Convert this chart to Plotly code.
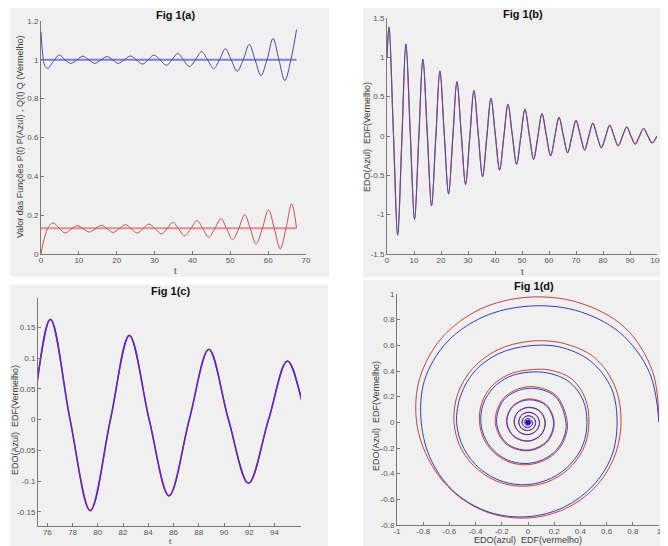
import plotly.graph_objects as go

# page is 668x546; the html body has an 8px margin, so the figure is 660x538 and
# every position below is given in page pixels and shifted by that offset.
PAGE_OFF = 8
W, H = 660, 538

# ---------------- Fig 1(a) : P(t) (azul) and Q(t) (vermelho) ----------------
a_t_P = [0, 0.5, 1.0, 1.75, 3.2, 4.8, 6.35, 7.9, 9.5, 11.1, 12.65, 14.2, 15.85, 17.5,
         18.95, 20.4, 22.0, 23.6, 25.2, 26.8, 28.3, 29.8, 31.45, 33.1, 34.6, 36.1,
         37.65, 39.2, 40.8, 42.4, 44.0, 45.6, 47.15, 48.7, 50.25, 51.8, 53.4, 55.0,
         56.55, 58.1, 59.7, 61.3, 62.85, 64.4, 66.0, 67.5]
a_P = [1.145, 1.02, 0.97, 0.956, 0.99, 1.025, 1.0, 0.982, 1.0, 1.019, 1.0, 0.982, 1.0, 1.017,
       1.0, 0.982, 1.0, 1.02, 1.0, 0.978, 1.0, 1.025, 1.0, 0.972, 1.0, 1.033,
       1.0, 0.965, 1.0, 1.042, 1.0, 0.955, 1.0, 1.057, 1.0, 0.941, 1.0, 1.079,
       1.0, 0.919, 1.0, 1.11, 1.0, 0.893, 1.0, 1.156]
a_t_Q = [0, 1.0, 2.0, 3.2, 4.75, 6.3, 7.95, 9.6, 11.15, 12.7, 14.35, 16.0, 17.5, 19.0,
         20.65, 22.3, 23.85, 25.4, 26.95, 28.5, 30.15, 31.8, 33.3, 34.8, 36.35, 37.9,
         39.55, 41.2, 42.75, 44.3, 45.9, 47.5, 49.05, 50.6, 52.2, 53.8, 55.3, 56.8,
         58.45, 60.1, 61.65, 63.2, 64.7, 66.2, 67.5]
a_Q = [0.0, 0.09, 0.14, 0.16, 0.135, 0.108, 0.127, 0.146, 0.13, 0.113, 0.13, 0.148, 0.13, 0.111,
       0.13, 0.151, 0.13, 0.108, 0.13, 0.154, 0.13, 0.103, 0.13, 0.163, 0.13, 0.094,
       0.13, 0.172, 0.13, 0.087, 0.13, 0.182, 0.13, 0.074, 0.13, 0.202, 0.13, 0.051,
       0.13, 0.228, 0.13, 0.026, 0.13, 0.259, 0.134]
a_eq_t = [0, 67.5]
a_P_eq = [1.0, 1.0]
a_Q_eq = [0.132, 0.132]

# ---------------- Fig 1(b) / 1(c) : EDO (azul) and EDF (vermelho) ----------------
b_t = [0, 0.75, 2.35, 3.95, 5.5, 7.0, 8.6, 10.2, 11.75, 13.3, 14.9, 16.5, 18.05, 19.6,
       21.2, 22.8, 24.35, 25.9, 27.5, 29.1, 30.65, 32.2, 33.8, 35.4, 36.95, 38.5,
       40.1, 41.7, 43.25, 44.8, 46.4, 48.0, 49.55, 51.1, 52.7, 54.3, 55.85, 57.4,
       59.0, 60.6, 62.15, 63.7, 65.3, 66.9, 68.45, 70.0, 71.6, 73.2, 74.7, 76.24,
       77.8, 79.4, 81.0, 82.5, 84.07, 85.64, 87.25, 88.8, 90.35, 91.94, 93.53, 95.03,
       96.6, 98.2, 100.0]
b_edo = [1.0, 1.38, 0.06, -1.26, -0.05, 1.17, 0.05, -1.06, -0.04, 0.976, 0.04, -0.887, -0.03, 0.827,
         0.03, -0.738, -0.03, 0.69, 0.03, -0.615, -0.02, 0.577, 0.02, -0.518, -0.02, 0.479,
         0.02, -0.433, -0.015, 0.403, 0.015, -0.36, -0.012, 0.34, 0.012, -0.297, -0.01, 0.284,
         0.01, -0.25, -0.008, 0.238, 0.008, -0.212, -0.007, 0.199, 0.007, -0.178, -0.006, 0.1624,
         0.0, -0.148, 0.0, 0.1365, 0.0, -0.124, 0.0, 0.1138, 0.0, -0.1035, 0.0, 0.0949,
         0.0, -0.087, 0.0]
b_edf = [1.0, 1.39, 0.06, -1.26, -0.05, 1.17, 0.05, -1.06, -0.04, 0.976, 0.04, -0.887, -0.03, 0.827,
         0.03, -0.738, -0.03, 0.69, 0.03, -0.615, -0.02, 0.577, 0.02, -0.518, -0.02, 0.479,
         0.02, -0.433, -0.015, 0.403, 0.015, -0.36, -0.012, 0.34, 0.012, -0.297, -0.01, 0.284,
         0.01, -0.25, -0.008, 0.238, 0.008, -0.212, -0.007, 0.199, 0.007, -0.178, -0.006, 0.163,
         0.0, -0.148, 0.0, 0.137, 0.0, -0.124, 0.0, 0.1142, 0.0, -0.1035, 0.0, 0.0952,
         0.0, -0.087, 0.0]

# ---------------- Fig 1(d) : phase portrait (points read along the spiral) ----------------
d_edo_x = [1.0, 0.929, 0.700, 0.362, 0.0, -0.341, -0.622, -0.790, -0.815, -0.735, -0.552, -0.291, 0.0, 0.274, 0.495, 0.638,
           0.68, 0.637, 0.477, 0.243, 0.0, -0.222, -0.403, -0.513, -0.545, -0.49, -0.364, -0.191, 0.0, 0.18, 0.325, 0.42,
           0.45, 0.42, 0.315, 0.159, 0.0, -0.147, -0.267, -0.342, -0.36, -0.323, -0.24, -0.126, 0.0, 0.119, 0.216, 0.275,
           0.29, 0.205, 0.0, -0.18, -0.24, -0.163, 0.0, 0.145,
           0.195, 0.134, 0.0, -0.119, -0.16, -0.107, 0.0, 0.098,
           0.13, 0.088, 0.0, -0.078, -0.105, -0.071, 0.0, 0.064,
           0.087, 0.058, 0.0, -0.052, -0.07, -0.047, 0.0, 0.042,
           0.057, 0.038, 0.0, -0.033, -0.045, -0.03, 0.0, 0.026,
           0.035, 0.0, -0.02, -0.025, -0.017, 0.0, 0.015, 0.02, 0.0, -0.012, 0.0, 0.007, 0.0]
d_edo_y = [0.0, 0.385, 0.700, 0.873, 0.905, 0.822, 0.622, 0.327, 0.0, -0.304, -0.552, -0.702, -0.735, -0.661, -0.495, -0.264,
           0.0, 0.264, 0.477, 0.587, 0.595, 0.536, 0.403, 0.212, 0.0, -0.203, -0.364, -0.462, -0.485, -0.434, -0.325, -0.174,
           0.0, 0.174, 0.315, 0.383, 0.39, 0.354, 0.267, 0.142, 0.0, -0.134, -0.24, -0.305, -0.32, -0.288, -0.216, -0.114,
           0.0, 0.205, 0.265, 0.18, 0.0, -0.163, -0.216, -0.145,
           0.0, 0.134, 0.175, 0.119, 0.0, -0.107, -0.145, -0.098,
           0.0, 0.088, 0.115, 0.078, 0.0, -0.071, -0.095, -0.064,
           0.0, 0.058, 0.077, 0.052, 0.0, -0.047, -0.063, -0.042,
           0.0, 0.038, 0.05, 0.033, 0.0, -0.03, -0.04, -0.026,
           0.0, 0.03, 0.02, 0.0, -0.017, -0.022, -0.015, 0.0, 0.015, 0.0, -0.01, 0.0, 0.0]
d_edf_x = [1.0, 0.952, 0.739, 0.387, 0.0, -0.365, -0.658, -0.827, -0.85, -0.748, -0.555, -0.293, 0.0, 0.28, 0.509, 0.658,
           0.71, 0.665, 0.506, 0.256, 0.0, -0.233, -0.421, -0.536, -0.565, -0.508, -0.375, -0.196, 0.0, 0.186, 0.336, 0.434,
           0.465, 0.439, 0.336, 0.168, 0.0, -0.153, -0.279, -0.354, -0.37, -0.333, -0.247, -0.13, 0.0, 0.123, 0.223, 0.284,
           0.30, 0.212, 0.0, -0.187, -0.25, -0.168, 0.0, 0.15,
           0.2, 0.138, 0.0, -0.122, -0.165, -0.11, 0.0, 0.1,
           0.133, 0.09, 0.0, -0.079, -0.107, -0.072, 0.0, 0.065,
           0.089, 0.059, 0.0, -0.053, -0.072, -0.048, 0.0, 0.044,
           0.059, 0.039, 0.0, -0.034, -0.046, -0.031, 0.0, 0.027,
           0.036, 0.0, -0.02, -0.025, -0.017, 0.0, 0.015, 0.02, 0.0, -0.012, 0.0, 0.007, 0.0]
d_edf_y = [0.0, 0.394, 0.739, 0.933, 0.975, 0.882, 0.658, 0.343, 0.0, -0.31, -0.555, -0.707, -0.745, -0.675, -0.509, -0.272,
           0.0, 0.276, 0.506, 0.619, 0.63, 0.564, 0.421, 0.222, 0.0, -0.211, -0.375, -0.474, -0.497, -0.448, -0.336, -0.18,
           0.0, 0.182, 0.336, 0.407, 0.408, 0.37, 0.279, 0.147, 0.0, -0.138, -0.247, -0.314, -0.33, -0.297, -0.223, -0.117,
           0.0, 0.212, 0.278, 0.187, 0.0, -0.168, -0.222, -0.15,
           0.0, 0.138, 0.182, 0.122, 0.0, -0.11, -0.148, -0.1,
           0.0, 0.09, 0.118, 0.079, 0.0, -0.072, -0.097, -0.065,
           0.0, 0.059, 0.079, 0.053, 0.0, -0.048, -0.065, -0.044,
           0.0, 0.039, 0.052, 0.034, 0.0, -0.031, -0.041, -0.027,
           0.0, 0.03, 0.02, 0.0, -0.017, -0.022, -0.015, 0.0, 0.015, 0.0, -0.01, 0.0, 0.0]

# tick labels
a_xticks = [0, 10, 20, 30, 40, 50, 60, 70]
a_yticks = [0, 0.2, 0.4, 0.6, 0.8, 1, 1.2]
a_ytext = ["0", "0.2", "0.4", "0.6", "0.8", "1", "1.2"]
b_xticks = [0, 10, 20, 30, 40, 50, 60, 70, 80, 90, 100]
b_yticks = [-1.5, -1, -0.5, 0, 0.5, 1, 1.5]
b_ytext = ["-1.5", "-1", "-0.5", "0", "0.5", "1", "1.5"]
c_xticks = [76, 78, 80, 82, 84, 86, 88, 90, 92, 94]
c_yticks = [-0.15, -0.1, -0.05, 0, 0.05, 0.1, 0.15]
c_ytext = ["-0.15", "-0.1", "-0.05", "0", "0.05", "0.1", "0.15"]
d_xticks = [-1, -0.8, -0.6, -0.4, -0.2, 0, 0.2, 0.4, 0.6, 0.8, 1]
d_xtext = ["-1", "-0.8", "-0.6", "-0.4", "-0.2", "0", "0.2", "0.4", "0.6", "0.8", "1"]
d_yticks = [-0.8, -0.6, -0.4, -0.2, 0, 0.2, 0.4, 0.6, 0.8, 1]
d_ytext = ["-0.8", "-0.6", "-0.4", "-0.2", "0", "0.2", "0.4", "0.6", "0.8", "1"]


def fx(p):
    return (p - PAGE_OFF) / W


def fy(p):
    return 1 - (p - PAGE_OFF) / H


fig = go.Figure()

# (a)
fig.add_trace(go.Scatter(x=a_eq_t, y=a_P_eq, mode="lines", line=dict(color="#8080cc", width=2),
                         xaxis="x", yaxis="y"))
fig.add_trace(go.Scatter(x=a_eq_t, y=a_Q_eq, mode="lines", line=dict(color="#e09090", width=2),
                         xaxis="x", yaxis="y"))
fig.add_trace(go.Scatter(x=a_t_P, y=a_P, mode="lines", line=dict(color="#4a4aaa", width=1, shape="spline"),
                         xaxis="x", yaxis="y"))
fig.add_trace(go.Scatter(x=a_t_Q, y=a_Q, mode="lines", line=dict(color="#c85050", width=1, shape="spline"),
                         xaxis="x", yaxis="y"))
# (b)
fig.add_trace(go.Scatter(x=b_t, y=b_edf, mode="lines", line=dict(color="#c84040", width=1.2, shape="spline"),
                         xaxis="x2", yaxis="y2"))
fig.add_trace(go.Scatter(x=b_t, y=b_edo, mode="lines", line=dict(color="#5050b0", width=1, shape="spline"),
                         xaxis="x2", yaxis="y2"))
# (c)
fig.add_trace(go.Scatter(x=b_t, y=b_edf, mode="lines", line=dict(color="#e02020", width=1.6, shape="spline"),
                         xaxis="x3", yaxis="y3"))
fig.add_trace(go.Scatter(x=b_t, y=b_edo, mode="lines", line=dict(color="#3030ff", width=1.2, shape="spline"),
                         xaxis="x3", yaxis="y3"))
# (d)
fig.add_trace(go.Scatter(x=d_edf_x, y=d_edf_y, mode="lines",
                         line=dict(color="#c84040", width=1, shape="spline"),
                         xaxis="x4", yaxis="y4"))
fig.add_trace(go.Scatter(x=d_edo_x, y=d_edo_y, mode="lines",
                         line=dict(color="#3a3ab8", width=1, shape="spline"),
                         xaxis="x4", yaxis="y4"))
fig.add_trace(go.Scatter(x=[d_edo_x[-1]], y=[d_edo_y[-1]], mode="markers",
                         marker=dict(color="#1010e0", size=5), xaxis="x4", yaxis="y4"))

axis_common = dict(showgrid=False, zeroline=False, showline=True, linecolor="#7a7a7a", linewidth=1,
                   ticks="inside", ticklen=3, tickcolor="#7a7a7a", mirror=False, automargin=False,
                   tickfont=dict(family="Liberation Sans, Arial", size=8, color="#555555"))
xax = dict(axis_common, ticklabelstandoff=-2)

fig.update_layout(
    template="none",
    width=W, height=H, margin=dict(l=0, r=0, t=0, b=0, pad=0),
    paper_bgcolor="white", plot_bgcolor="white", showlegend=False,
    xaxis=dict(domain=[fx(41), fx(306)], anchor="y", range=[0, 70], tickvals=a_xticks, **xax),
    yaxis=dict(domain=[fy(254), fy(21)], anchor="x", range=[0, 1.2], tickvals=a_yticks, ticktext=a_ytext, **axis_common),
    xaxis2=dict(domain=[fx(387), fx(657)], anchor="y2", range=[0, 100], tickvals=b_xticks, **xax),
    yaxis2=dict(domain=[fy(254), fy(18)], anchor="x2", range=[-1.5, 1.5], tickvals=b_yticks, ticktext=b_ytext, **axis_common),
    xaxis3=dict(domain=[fx(38), fx(301)], anchor="y3", range=[75.26, 96.1], tickvals=c_xticks, **xax),
    yaxis3=dict(domain=[fy(526), fy(298)], anchor="x3", range=[-0.173, 0.1975], tickvals=c_yticks, ticktext=c_ytext, **axis_common),
    xaxis4=dict(domain=[fx(397), fx(659)], anchor="y4", range=[-1, 1], tickvals=d_xticks, ticktext=d_xtext, **xax),
    yaxis4=dict(domain=[fy(525), fy(294)], anchor="x4", range=[-0.8, 1], tickvals=d_yticks, ticktext=d_ytext, **axis_common),
)

# grey figure backgrounds (page pixels)
for (x0, y0, x1, y1) in [(10, 8, 329, 277), (363, 8, 668, 277), (10, 285, 328, 546), (363, 280, 668, 546)]:
    fig.add_shape(type="rect", xref="paper", yref="paper", x0=fx(x0), x1=fx(x1), y0=fy(y1), y1=fy(y0),
                  fillcolor="#f0f0f0", line=dict(width=0), layer="below")

NB = "\u00a0"
FONT = "Liberation Sans, Arial"
texts = [
    ("<b>Fig 1(a)</b>", 175, 15, 11, 0),
    ("<b>Fig 1(b)</b>", 523, 14, 11, 0),
    ("<b>Fig 1(c)</b>", 170, 291, 11, 0),
    ("<b>Fig 1(d)</b>", 534, 286, 11, 0),
    ("t", 175, 271, 9, 0),
    ("t", 522, 272, 9, 0),
    ("t", 170, 541.5, 8, 0),
    ("EDO(azul)" + NB + NB + "EDF(vermelho)", 528, 540, 9, 0),
    ("Valor das Funções P(t) P(Azul) , Q(t) Q (Vermelho)", 20, 137, 9, -90),
    ("EDO(Azul)" + NB + NB + "EDF(Vermelho)", 367, 137, 9, -90),
    ("EDO(Azul)" + NB + NB + "EDF(Vermelho)", 15, 420, 9, -90),
    ("EDO(Azul)" + NB + NB + "EDF(Vermelho)", 376, 416, 9, -90),
]
for txt, x, y, size, ang in texts:
    bold = txt.startswith("<b>")
    fig.add_annotation(text=txt, x=fx(x), y=fy(y), xref="paper", yref="paper", showarrow=False,
                       xanchor="center", yanchor="middle", textangle=ang,
                       font=dict(family=FONT, size=size, color="#111111" if bold else "#404040"))

fig.write_html("out.html")
